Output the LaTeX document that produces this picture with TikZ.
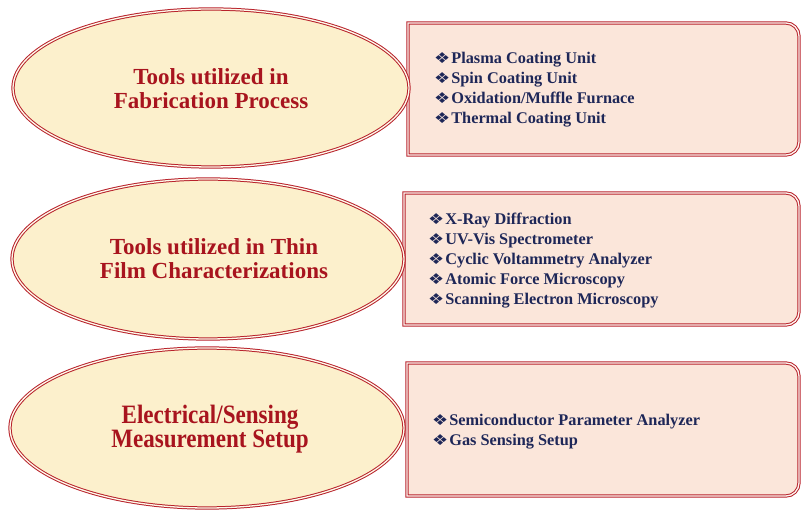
\documentclass[tikz,border=0pt]{standalone}
\usepackage{fontspec}
\setmainfont{Liberation Serif}
\newfontfamily\condfont[FakeStretch=0.87]{Liberation Serif}
\newfontfamily\symfont{DejaVu Sans}
\usetikzlibrary{shapes.geometric}
\definecolor{bordred}{HTML}{B8222B}
\definecolor{ellfill}{HTML}{FCF0CC}
\definecolor{boxfill}{HTML}{FBE6DA}
\definecolor{titred}{HTML}{A8141E}
\definecolor{navytext}{HTML}{1E2758}
\newcommand{\bul}{\raisebox{0pt}{\scalebox{1.2}[1.0]{\symfont\fontsize{15}{15}\selectfont ❖}}\hspace{1pt}}
\tikzset{
  ellbox/.style={ellipse, draw=bordred, line width=1.0pt, double=ellfill!40!white, double distance=1.3pt, fill=ellfill, inner sep=0pt},
  listbox/.style={draw=bordred, line width=1.0pt, double=boxfill!40!white, double distance=1.3pt, fill=boxfill},
  titletext/.style={text=titred, font=\bfseries\fontsize{23}{24}\selectfont, align=center},
  listtext/.style={text=navytext, font=\bfseries\fontsize{16.3}{20}\selectfont, align=left, anchor=west, inner sep=0pt},
}
\begin{document}
\begin{tikzpicture}[x=1pt,y=-1pt]
\useasboundingbox (0,0) rectangle (801,510);
% boxes
\draw[listbox] (408,155) -- (408,23) [rounded corners=13pt] -- (799,23) -- (799,155) [sharp corners] -- cycle;
\draw[listbox] (404,325) -- (404,193) [rounded corners=13pt] -- (799,193) -- (799,325) [sharp corners] -- cycle;
\draw[listbox] (407,496) -- (407,363) [rounded corners=13pt] -- (799,363) -- (799,496) [sharp corners] -- cycle;
% ellipses
\node[ellbox, minimum width=396pt, minimum height=158pt] (e1) at (211,88) {};
\node[ellbox, minimum width=392pt, minimum height=160pt] (e2) at (208,259) {};
\node[ellbox, minimum width=394pt, minimum height=160pt] (e3) at (207,428) {};
% titles
\node[titletext] (t1) at (211,89) {Tools utilized in\\Fabrication Process};
\node[titletext] (t2) at (214,259) {Tools utilized in Thin\\Film Characterizations};
\node[titletext, font=\condfont\bfseries\fontsize{26.5}{24}\selectfont] (t3) at (210,429) {Electrical/Sensing\\Measurement Setup};
% lists
\node[listtext] (l1) at (434,90) {\bul Plasma Coating Unit\\\bul Spin Coating Unit\\\bul Oxidation/Muffle Furnace\\\bul Thermal Coating Unit};
\node[listtext] (l2) at (428,261) {\bul X-Ray Diffraction\\\bul UV-Vis Spectrometer\\\bul Cyclic Voltammetry Analyzer\\\bul Atomic Force Microscopy\\\bul Scanning Electron Microscopy};
\node[listtext] (l3) at (432,432) {\bul Semiconductor Parameter Analyzer\\\bul Gas Sensing Setup};
\end{tikzpicture}
\end{document}
